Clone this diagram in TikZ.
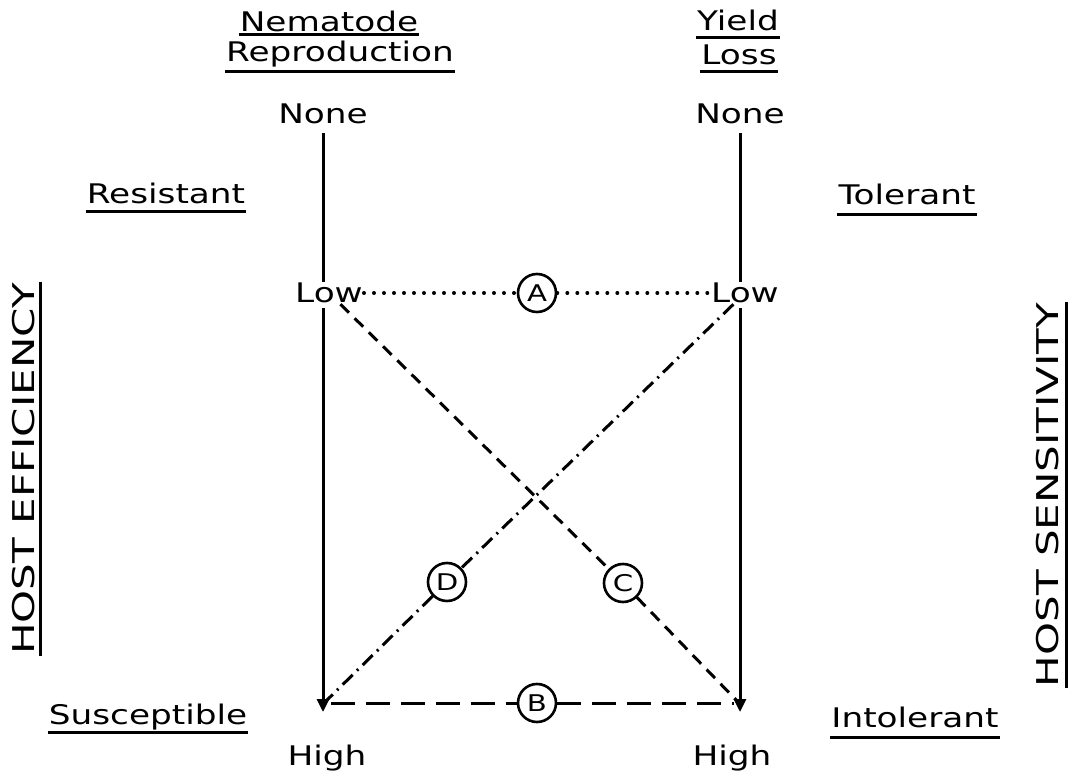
\documentclass[tikz,border=0pt]{standalone}
\usepackage{fontspec}
\setmainfont[FakeStretch=1.27]{DejaVu Sans}
\newfontfamily\titlefont[FakeStretch=1.4]{DejaVu Sans}
\usetikzlibrary{calc,arrows.meta}

\begin{document}
\begin{tikzpicture}[x=1pt, y=-1pt, font=\fontsize{27}{30}\selectfont,
  lbl/.style={inner sep=1pt},
  ttl/.style={inner sep=1pt, rotate=90, font=\titlefont\fontsize{30}{32}\selectfont},
  ul/.style={line width=3pt},
  axis/.style={line width=3pt},
  tag/.style={draw, circle, line width=2.6pt, minimum size=38pt, inner sep=0pt, font=\fontsize{23}{24}\selectfont},
  dotline/.style={line width=4pt, line cap=round, dash pattern=on 0pt off 10pt},
  dashline/.style={line width=3pt, dash pattern=on 12pt off 8pt},
  dashdotline/.style={line width=3pt, dash pattern=on 14pt off 6pt on 2pt off 6pt},
  longdash/.style={line width=3pt, dash pattern=on 24pt off 11pt},
  tip/.style={-{Triangle[width=12pt,length=13pt]}}]
  \useasboundingbox (0,0) rectangle (1077,778);
  % column headings
  \node[lbl] (nem) at (329,21) {Nematode};
  \node[lbl] (rep) at (340,54) {Reproduction};
  \node[lbl] (yld) at (738,20) {Yield};
  \node[lbl] (los) at (739,55) {Loss};
  \draw[ul] ($(nem.base west)+(0,3)$) -- ($(nem.base east)+(0,3)$);
  \draw[ul] ($(rep.base west)+(0,10)$) -- ($(rep.base east)+(0,10)$);
  \draw[ul] ($(yld.base west)+(0,7)$) -- ($(yld.base east)+(0,7)$);
  \draw[ul] ($(los.base west)+(0,7)$) -- ($(los.base east)+(0,7)$);
  % side labels
  \node[lbl] (res) at (166,193) {Resistant};
  \node[lbl] (tol) at (907,194) {Tolerant};
  \node[lbl] (sus) at (148,717) {Susceptible};
  \node[lbl] (int) at (915,717) {Intolerant};
  \draw[ul] ($(res.base west)+(0,8)$) -- ($(res.base east)+(0,8)$);
  \draw[ul] ($(tol.base west)+(0,10)$) -- ($(tol.base east)+(0,10)$);
  \draw[ul] ($(sus.base west)+(0,8)$) -- ($(sus.base east)+(0,8)$);
  \draw[ul] ($(int.base west)+(0,10)$) -- ($(int.base east)+(0,10)$);
  % vertical titles
  \node[ttl] (eff) at (24,469) {HOST EFFICIENCY};
  \node[ttl] (sen) at (1048,495) {HOST SENSITIVITY};
  \draw[ul] ($(eff.base west)+(6,0)$) -- ($(eff.base east)+(6,0)$);
  \draw[ul] ($(sen.base west)+(8,0)$) -- ($(sen.base east)+(8,0)$);
  % scale ends
  \node[lbl] (lnone) at (323,114) {None};
  \node[lbl] (rnone) at (740,114) {None};
  \node[lbl] (llow) at (329,293) {Low};
  \node[lbl] (rlow) at (745,293) {Low};
  \node[lbl] (lhigh) at (327,758) {High};
  \node[lbl] (rhigh) at (732,758) {High};
  \coordinate (lbot) at (323,712);
  \coordinate (rbot) at (740,712);
  % the two axes
  \draw[axis] ([yshift=-8pt]lnone.south) -- (llow.north -| lbot);
  \draw[axis] ([yshift=-8pt]rnone.south) -- (rlow.north -| rbot);
  \draw[axis, tip] ([yshift=-4pt]llow.south -| lbot) -- (lbot);
  \draw[axis, tip] ([yshift=-4pt]rlow.south -| rbot) -- (rbot);
  % the four links
  \node[tag] (aa) at (537,293) {A};
  \node[tag] (bb) at (537,703) {B};
  \node[tag] (cc) at (623,583) {C};
  \node[tag] (dd) at (447,582) {D};
  \draw[dotline] (llow) -- (aa);
  \draw[dotline] (aa) -- (rlow);
  \draw[longdash] ([xshift=8pt,yshift=9pt]lbot) -- (bb);
  \draw[longdash] (bb) -- ([xshift=-6pt,yshift=9pt]rbot);
  \draw[dashline] (llow) -- (cc);
  \draw[dashline] (cc) -- ([yshift=8pt]rbot);
  \draw[dashdotline] (rlow) -- (dd);
  \draw[dashdotline] (dd) -- ([yshift=8pt]lbot);
\end{tikzpicture}
\end{document}
